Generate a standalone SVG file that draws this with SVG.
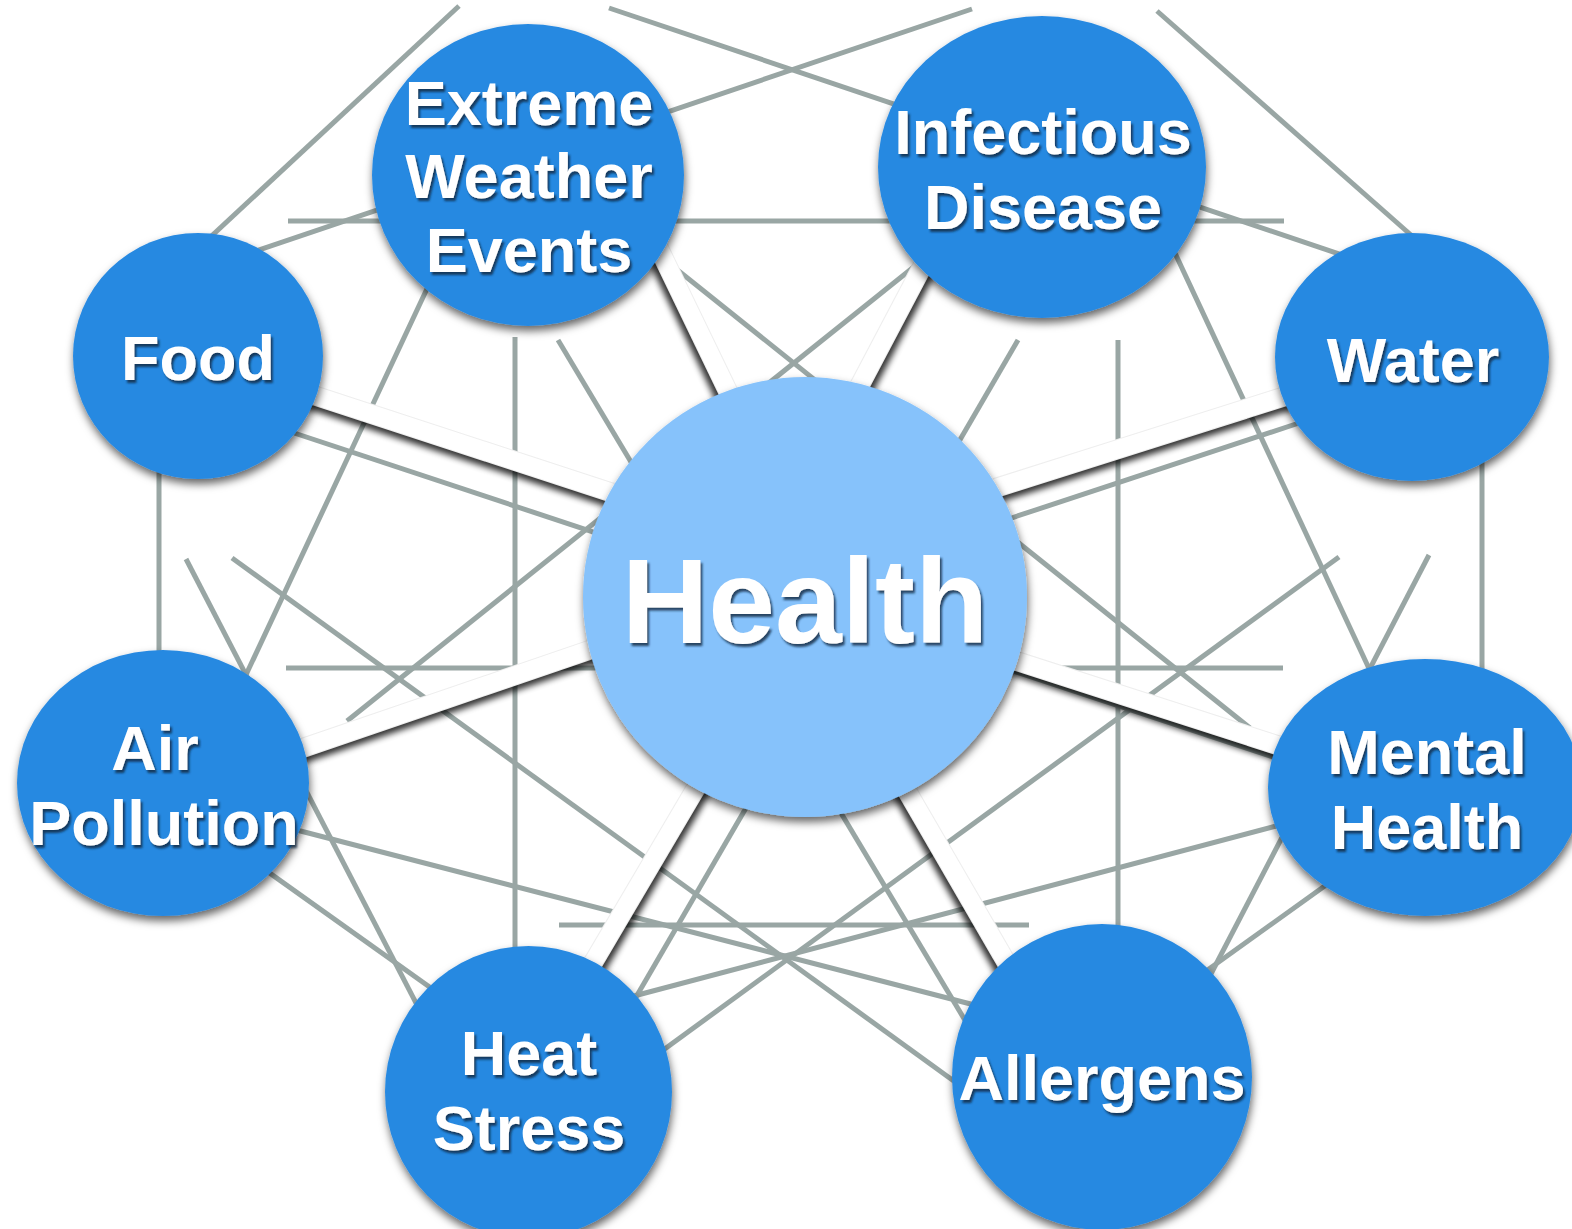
<svg xmlns="http://www.w3.org/2000/svg" width="1572" height="1229" viewBox="0 0 1572 1229">
<defs>
<filter id="nodeShadow" x="-15%" y="-15%" width="130%" height="135%">
<feDropShadow dx="1" dy="5" stdDeviation="4" flood-color="#000" flood-opacity="0.6"/>
</filter>
<filter id="textShadow" x="-10%" y="-20%" width="120%" height="150%">
<feDropShadow dx="2" dy="3" stdDeviation="1.3" flood-color="#0a2540" flood-opacity="0.8"/>
</filter>
<filter id="spokeBlur" filterUnits="userSpaceOnUse" x="0" y="0" width="1572" height="1229">
<feGaussianBlur stdDeviation="3"/>
</filter>
</defs>
<style>
.g{stroke:#99A6A4;stroke-width:5;fill:none}
.sh{stroke:#000;stroke-width:18}
.se{stroke:#eeeeee;stroke-width:20}
.sw{stroke:#fff;stroke-width:18}
.n{fill:#2889E1;filter:url(#nodeShadow)}
.h{fill:#86C2FB;filter:url(#nodeShadow)}
.t{font-family:"Liberation Sans",Arial,Helvetica,sans-serif;font-weight:bold;font-size:63px;fill:#fff;text-anchor:middle;filter:url(#textShadow)}
.tb{font-size:120px}
</style>
<rect width="1572" height="1229" fill="#fff"/>
<g id="connectors">
<g id="links">
<line class="g" x1="459" y1="6" x2="190" y2="256"/>
<line class="g" x1="609" y1="8" x2="1360" y2="261"/>
<line class="g" x1="972" y1="9" x2="235" y2="258"/>
<line class="g" x1="1157" y1="11" x2="1420" y2="243"/>
<line class="g" x1="288" y1="221" x2="1284" y2="221"/>
<line class="g" x1="270" y1="425" x2="1300" y2="766"/>
<line class="g" x1="1305" y1="421" x2="285" y2="758"/>
<line class="g" x1="159" y1="450" x2="159" y2="680"/>
<line class="g" x1="515" y1="337" x2="515" y2="970"/>
<line class="g" x1="1118" y1="340" x2="1118" y2="945"/>
<line class="g" x1="440" y1="261" x2="237" y2="694"/>
<line class="g" x1="1160" y1="221" x2="1380" y2="692"/>
<line class="g" x1="186" y1="559" x2="430" y2="1030"/>
<line class="g" x1="1429" y1="555" x2="1200" y2="995"/>
<line class="g" x1="232" y1="558" x2="980" y2="1100"/>
<line class="g" x1="1339" y1="557" x2="640" y2="1067"/>
<line class="g" x1="925" y1="258" x2="347" y2="721"/>
<line class="g" x1="640" y1="240" x2="1250" y2="728"/>
<line class="g" x1="286" y1="668" x2="1283" y2="668"/>
<line class="g" x1="250" y1="859" x2="445" y2="998"/>
<line class="g" x1="1340" y1="875" x2="1195" y2="979"/>
<line class="g" x1="285" y1="827" x2="990" y2="1009"/>
<line class="g" x1="615" y1="1001" x2="1295" y2="821"/>
<line class="g" x1="1018" y1="340" x2="625" y2="1016"/>
<line class="g" x1="558" y1="340" x2="975" y2="1037"/>
<line class="g" x1="559" y1="925" x2="1029" y2="925"/>
<line class="g" x1="1482" y1="440" x2="1482" y2="690"/>
</g>
<g id="spoke-shadows" filter="url(#spokeBlur)" opacity="0.8">
<line class="sh" x1="240" y1="371" x2="665" y2="510" transform="translate(-1.9,5.7)"/>
<line class="sh" x1="639" y1="207" x2="754" y2="445" transform="translate(-5.4,2.6)"/>
<line class="sh" x1="947" y1="219.5" x2="834" y2="434" transform="translate(5.3,2.8)"/>
<line class="sh" x1="943.4" y1="504.5" x2="1331" y2="381.6" transform="translate(1.8,5.7)"/>
<line class="sh" x1="960.7" y1="643" x2="1333" y2="763" transform="translate(-1.8,5.7)"/>
<line class="sh" x1="877.7" y1="740.3" x2="1034.6" y2="1010.7" transform="translate(-5.2,3)"/>
<line class="sh" x1="725.9" y1="737" x2="565" y2="1010" transform="translate(5.2,3)"/>
<line class="sh" x1="247" y1="767" x2="643" y2="631.6" transform="translate(1.9,5.7)"/>
</g>
<g id="spokes">
<line class="se" x1="240" y1="371" x2="665" y2="510"/>
<line class="se" x1="639" y1="207" x2="754" y2="445"/>
<line class="se" x1="947" y1="219.5" x2="834" y2="434"/>
<line class="se" x1="943.4" y1="504.5" x2="1331" y2="381.6"/>
<line class="se" x1="960.7" y1="643" x2="1333" y2="763"/>
<line class="se" x1="877.7" y1="740.3" x2="1034.6" y2="1010.7"/>
<line class="se" x1="725.9" y1="737" x2="565" y2="1010"/>
<line class="se" x1="247" y1="767" x2="643" y2="631.6"/>
<line class="sw" x1="240" y1="371" x2="665" y2="510"/>
<line class="sw" x1="639" y1="207" x2="754" y2="445"/>
<line class="sw" x1="947" y1="219.5" x2="834" y2="434"/>
<line class="sw" x1="943.4" y1="504.5" x2="1331" y2="381.6"/>
<line class="sw" x1="960.7" y1="643" x2="1333" y2="763"/>
<line class="sw" x1="877.7" y1="740.3" x2="1034.6" y2="1010.7"/>
<line class="sw" x1="725.9" y1="737" x2="565" y2="1010"/>
<line class="sw" x1="247" y1="767" x2="643" y2="631.6"/>
</g>
</g>
<g id="node-extreme-weather">
<ellipse class="n" cx="528" cy="175" rx="156" ry="151"/>
<text class="t"><tspan x="529" y="124.5">Extreme</tspan><tspan x="529" y="198">Weather</tspan><tspan x="529" y="272">Events</tspan></text>
</g>
<g id="node-infectious-disease">
<ellipse class="n" cx="1042" cy="167" rx="164" ry="151"/>
<text class="t"><tspan x="1043" y="153.5">Infectious</tspan><tspan x="1043" y="228.5">Disease</tspan></text>
</g>
<g id="node-water">
<ellipse class="n" cx="1412" cy="357" rx="137" ry="124"/>
<text class="t" x="1413" y="381.5">Water</text>
</g>
<g id="node-food">
<ellipse class="n" cx="198" cy="356" rx="125" ry="123"/>
<text class="t" x="198" y="380">Food</text>
</g>
<g id="node-air-pollution">
<ellipse class="n" cx="163" cy="783" rx="146" ry="133"/>
<text class="t"><tspan x="155" y="770">Air</tspan><tspan x="164" y="845">Pollution</tspan></text>
</g>
<g id="node-heat-stress">
<ellipse class="n" cx="528.5" cy="1092" rx="143.5" ry="146"/>
<text class="t"><tspan x="529" y="1074.5">Heat</tspan><tspan x="529" y="1149.5">Stress</tspan></text>
</g>
<g id="node-allergens">
<ellipse class="n" cx="1102" cy="1077" rx="150" ry="153"/>
<text class="t" x="1102" y="1100">Allergens</text>
</g>
<g id="node-mental-health">
<ellipse class="n" cx="1425" cy="787.5" rx="157" ry="128.5"/>
<text class="t"><tspan x="1427" y="774">Mental</tspan><tspan x="1427" y="849">Health</tspan></text>
</g>
<g id="node-health">
<ellipse class="h" cx="805" cy="597" rx="222" ry="220"/>
<text class="t tb" x="805" y="643">Health</text>
</g>
</svg>
